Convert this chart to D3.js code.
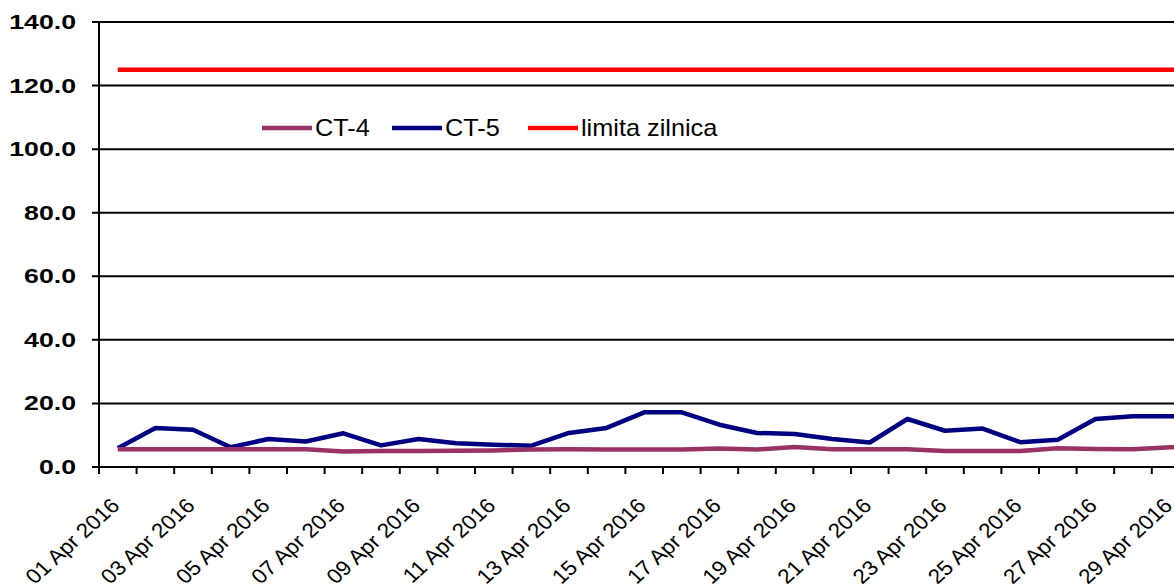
<!DOCTYPE html>
<html>
<head>
<meta charset="utf-8">
<script src="https://cdn.jsdelivr.net/npm/d3@7"></script>
<style>
  html, body { margin: 0; padding: 0; background: #fff; overflow: hidden; }
  svg { display: block; font-family: "Liberation Sans", Arial, sans-serif; }
</style>
</head>
<body>
<svg id="chart" width="1174" height="584"></svg>
<script>
// categories: one per day of April 2016
var days = ["01 Apr 2016","02 Apr 2016","03 Apr 2016","04 Apr 2016","05 Apr 2016","06 Apr 2016",
  "07 Apr 2016","08 Apr 2016","09 Apr 2016","10 Apr 2016","11 Apr 2016","12 Apr 2016",
  "13 Apr 2016","14 Apr 2016","15 Apr 2016","16 Apr 2016","17 Apr 2016","18 Apr 2016",
  "19 Apr 2016","20 Apr 2016","21 Apr 2016","22 Apr 2016","23 Apr 2016","24 Apr 2016",
  "25 Apr 2016","26 Apr 2016","27 Apr 2016","28 Apr 2016","29 Apr 2016","30 Apr 2016"];

var ct4 = [5.6, 5.6, 5.6, 5.6, 5.6, 5.6, 4.9, 5.0, 5.0, 5.1, 5.2, 5.5, 5.6, 5.5, 5.5,
  5.5, 5.8, 5.5, 6.3, 5.6, 5.6, 5.6, 5.0, 5.0, 5.0, 5.9, 5.7, 5.6, 6.2, 6.2];
var ct5 = [5.9, 12.3, 11.7, 6.2, 8.8, 8.0, 10.6, 6.8, 8.8, 7.5, 7.0, 6.7, 10.7, 12.3, 17.2,
  17.2, 13.3, 10.7, 10.4, 8.8, 7.7, 15.1, 11.4, 12.1, 7.8, 8.6, 15.1, 16.0, 16.0, 16.0];
var limita = 125.0;

var yTicks = [0, 20, 40, 60, 80, 100, 120, 140];

var series = [
  { name: "CT-4", values: ct4, color: "#993366" },
  { name: "CT-5", values: ct5, color: "#000080" },
  { name: "limita zilnica", values: days.map(function() { return limita; }), color: "#ff0000" }
];

var svg = d3.select("#chart"),
    plotLeft = 99, plotRight = 1227, plotTop = 22, plotBottom = 467;

var x = d3.scaleBand().domain(days).range([plotLeft, plotRight]).padding(0);
var y = d3.scaleLinear().domain([0, 140]).range([plotBottom, plotTop]);
var fmt = d3.format(".1f");

// gridlines
svg.append("g").selectAll("line")
  .data(yTicks.filter(function(d) { return d > 0; }))
  .enter().append("line")
    .attr("x1", plotLeft - 7).attr("x2", plotRight)
    .attr("y1", function(d) { return y(d); }).attr("y2", function(d) { return y(d); })
    .attr("stroke", "#000").attr("stroke-width", 2);

// axes
svg.append("line")
  .attr("x1", plotLeft).attr("x2", plotLeft).attr("y1", y(140)).attr("y2", y(0) + 7)
  .attr("stroke", "#000").attr("stroke-width", 2);
svg.append("line")
  .attr("x1", plotLeft - 7).attr("x2", plotRight).attr("y1", y(0)).attr("y2", y(0))
  .attr("stroke", "#000").attr("stroke-width", 2);

svg.append("g").selectAll("text")
  .data(yTicks)
  .enter().append("text")
    .attr("transform", function(d) { return "translate(76," + (y(d) + 7) + ") scale(1.37,1)"; })
    .attr("text-anchor", "end")
    .style("font-size", "19.5px").style("font-weight", "bold")
    .text(function(d) { return fmt(d); });

// x ticks at category boundaries
svg.append("g").selectAll("line")
  .data(days.slice(1))
  .enter().append("line")
    .attr("x1", function(d) { return x(d); }).attr("x2", function(d) { return x(d); })
    .attr("y1", y(0)).attr("y2", y(0) + 7)
    .attr("stroke", "#000").attr("stroke-width", 2);

svg.append("g").selectAll("text")
  .data(days.filter(function(d, i) { return i % 2 === 0; }))
  .enter().append("text")
    .attr("transform", function(d) {
      return "translate(" + (x(d) + x.bandwidth() / 2 + 3) + "," + (y(0) + 40) + ") scale(1.1,1) rotate(-45)";
    })
    .attr("text-anchor", "end")
    .style("font-size", "20.5px")
    .text(function(d) { return d; });

// lines
var line = d3.line()
  .x(function(d, i) { return x(days[i]) + x.bandwidth() / 2; })
  .y(function(d) { return y(d); });

svg.append("g").selectAll("path")
  .data(series.slice().reverse())
  .enter().append("path")
    .attr("d", function(s) { return line(s.values); })
    .attr("fill", "none")
    .attr("stroke", function(s) { return s.color; })
    .attr("stroke-width", 4.5)
    .attr("stroke-linejoin", "round");

// legend
var legendX = [262, 392, 528];
var legend = svg.append("g").selectAll("g")
  .data(series)
  .enter().append("g")
    .attr("transform", function(s, i) { return "translate(" + legendX[i] + ",128)"; });
legend.append("line")
  .attr("x1", 0).attr("x2", 50).attr("y1", 0).attr("y2", 0)
  .attr("stroke", function(s) { return s.color; }).attr("stroke-width", 4.5);
legend.append("text")
  .attr("transform", "translate(53,8) scale(1.1,1)")
  .style("font-size", "23px")
  .text(function(s) { return s.name; });
</script>
</body>
</html>
